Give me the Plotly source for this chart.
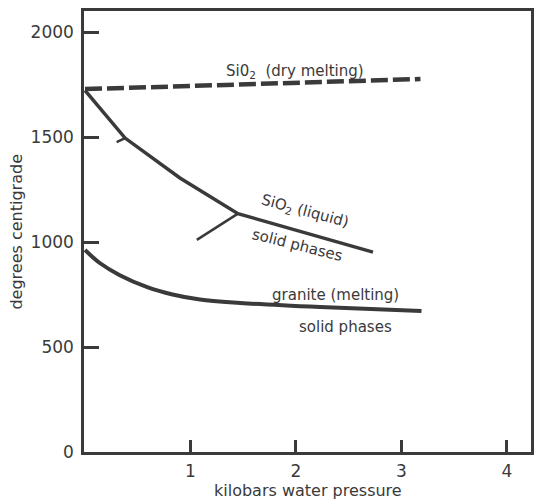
import plotly.graph_objects as go

# Pressure (kilobars water pressure) and temperature (degrees centigrade)
dry_p = [0.0, 3.18]
dry_t = [1728, 1776]

sio2_p = [0.0, 0.38, 0.90, 1.45, 2.73]
sio2_t = [1722, 1495, 1305, 1135, 952]

hook_p = [0.30, 0.38]
hook_t = [1476, 1495]

branch_p = [1.06, 1.45]
branch_t = [1010, 1135]

granite_p = [0.0, 0.14, 0.33, 0.59, 0.83, 1.09, 1.47, 2.23, 3.19]
granite_t = [962, 900, 842, 785, 750, 726, 710, 690, 671]

x_ticks = [1, 2, 3, 4]
y_ticks = [0, 500, 1000, 1500, 2000]

INK = "#3a3a3a"
FONT = "DejaVu Sans"

fig = go.Figure()
fig.add_trace(go.Scatter(x=dry_p, y=dry_t, mode="lines",
                         line=dict(color=INK, width=4.5, dash="17px,5px")))
fig.add_trace(go.Scatter(x=sio2_p, y=sio2_t, mode="lines",
                         line=dict(color=INK, width=3.5)))
fig.add_trace(go.Scatter(x=hook_p, y=hook_t, mode="lines",
                         line=dict(color=INK, width=2.5)))
fig.add_trace(go.Scatter(x=branch_p, y=branch_t, mode="lines",
                         line=dict(color=INK, width=2.5)))
fig.add_trace(go.Scatter(x=granite_p, y=granite_t, mode="lines",
                         line=dict(color=INK, width=4, shape="spline", smoothing=1.0)))

ann_font = dict(family=FONT, size=15, color=INK)
annotations = [
    dict(x=1.99, y=1810, text="Si0<sub>2</sub>  (dry melting)", textangle=0),
    dict(x=2.09, y=1143, text="SiO<sub>2</sub> (liquid)", textangle=15),
    dict(x=2.01, y=986, text="solid phases", textangle=14),
    dict(x=2.37, y=748, text="granite (melting)", textangle=0),
    dict(x=2.47, y=595, text="solid phases", textangle=0),
]
for a in annotations:
    fig.add_annotation(xref="x", yref="y", showarrow=False, font=ann_font, **a)

# axis titles placed as paper annotations
fig.add_annotation(xref="paper", yref="paper", x=0.5, y=-0.087, yanchor="middle",
                   text="kilobars water pressure", showarrow=False,
                   font=dict(family=FONT, size=16, color=INK))
fig.add_annotation(xref="paper", yref="paper", x=-0.152, y=0.5, xanchor="center",
                   text="degrees centigrade", textangle=-90, showarrow=False,
                   font=dict(family=FONT, size=16, color=INK))

fig.update_layout(
    width=534, height=501,
    margin=dict(l=84, r=3, t=11, b=49, autoexpand=False),
    paper_bgcolor="white", plot_bgcolor="white",
    showlegend=False,
    font=dict(family=FONT, size=17, color=INK),
)
fig.update_xaxes(
    range=[-0.0095, 4.228], showgrid=False, zeroline=False,
    showline=True, linecolor=INK, linewidth=2.5, mirror=True,
    ticks="inside", ticklen=12, tickwidth=2.5, tickcolor=INK,
    tickvals=x_ticks, ticktext=[str(v) for v in x_ticks],
    tickfont=dict(family=FONT, size=17, color=INK),
    ticklabelstandoff=2, automargin=False,
)
fig.update_yaxes(
    range=[0, 2100], showgrid=False, zeroline=False,
    showline=True, linecolor=INK, linewidth=2.5, mirror=True,
    ticks="inside", ticklen=15, tickwidth=2.5, tickcolor=INK,
    tickvals=y_ticks, ticktext=[str(v) for v in y_ticks],
    tickfont=dict(family=FONT, size=17, color=INK),
    ticklabelstandoff=4, automargin=False,
)

fig.write_html("out.html", config={"displayModeBar": False},
               post_script="document.body.style.margin='0';")
